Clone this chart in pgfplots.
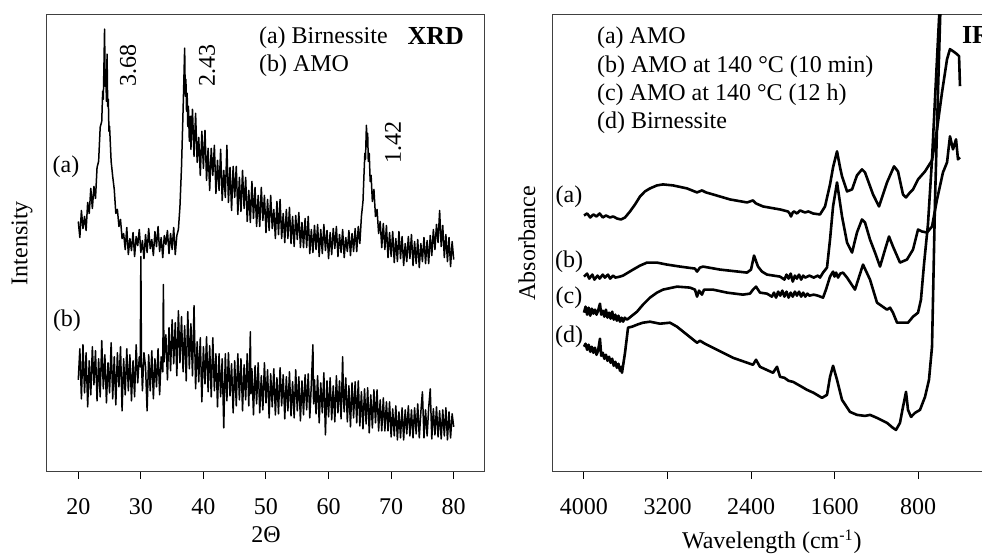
\documentclass[border=0pt]{standalone}
\usepackage{fontspec}
\setmainfont{Liberation Serif}
\usepackage{pgfplots}
\pgfplotsset{compat=1.18}

\pgfplotsset{
  panel/.style={
    scale only axis, height=228.5pt, ymin=0, ymax=457,
    ytick=\empty, xtick pos=bottom, tick align=outside,
    major tick length=3.5pt,
    axis line style={black!75, line width=0.5pt},
    every tick/.style={black, line width=0.5pt},
    tick label style={font=\fontsize{12}{14}\selectfont},
    xticklabel style={yshift=-6pt},
    label style={font=\fontsize{12}{14}\selectfont},
    /pgf/number format/assume math mode=true,
    /pgf/number format/set thousands separator={},
  },
  xrd/.style={black, line width=0.75pt, line join=round},
  ir/.style={black, line width=1.3pt, line join=round},
}

\begin{document}
\begin{tikzpicture}[font=\fontsize{12}{14}\selectfont]

% ---- XRD panel
\begin{axis}[panel, at={(23.5pt,42pt)}, anchor=south west, width=219pt,
  xmin=15, xmax=85, xtick={20,30,40,50,60,70,80},
  xlabel={2Θ}, ylabel={Intensity},
  xlabel style={at={(axis description cs:0.5,-0.155)}, anchor=base},
  ylabel style={at={(axis description cs:-0.057,0.5)}, anchor=center},
]
% (a) Birnessite
\addplot[xrd] coordinates {
(20.00,250) (20.25,234) (20.50,261) (20.75,243) (21.00,255) (21.25,241) (21.50,269) (21.75,258) (22.00,283) (22.25,263) (22.50,285) (22.75,273) (23.00,304) (23.25,310) (23.50,344) (23.75,350) (23.90,380) (24.00,372) (24.10,405) (24.20,442) (24.30,385) (24.40,398) (24.50,370) (24.60,417) (24.70,365) (24.80,372) (24.90,340) (25.00,345) (25.25,310) (25.50,295) (25.75,282) (26.00,258) (26.25,262) (26.50,245) (26.75,252) (27.00,233) (27.25,238) (27.50,222) (27.75,244) (28.00,217) (28.25,233) (28.50,221) (28.75,239) (29.00,215) (29.25,235) (29.50,226) (29.75,242) (30.00,219) (30.25,231) (30.50,213) (30.75,237) (31.00,219) (31.25,243) (31.50,223) (31.75,232) (32.00,216) (32.25,240) (32.50,225) (32.75,245) (33.00,220) (33.25,234) (33.50,214) (33.75,236) (34.00,227) (34.25,241) (34.50,218) (34.75,238) (35.00,222) (35.25,244) (35.50,217) (35.75,236) (36.00,242) (36.25,265) (36.50,305) (36.70,350) (36.85,385) (37.00,423) (37.10,375) (37.20,392) (37.30,360) (37.40,378) (37.50,345) (37.60,365) (37.75,330) (37.90,355) (38.00,322) (38.25,362) (38.50,315) (38.75,358) (39.00,309) (39.25,334) (39.50,296) (39.75,340) (40.00,303) (40.25,341) (40.50,291) (40.75,323) (41.00,281) (41.25,323) (41.50,296) (41.75,326) (42.00,278) (42.25,311) (42.50,281) (42.75,322) (43.00,271) (43.25,301) (43.50,274) (43.75,326) (44.00,269) (44.25,304) (44.50,261) (44.75,305) (45.00,274) (45.25,305) (45.50,257) (45.75,294) (46.00,260) (46.25,301) (46.50,263) (46.75,294) (47.00,250) (47.25,281) (47.50,249) (47.75,290) (48.00,253) (48.25,284) (48.50,245) (48.75,276) (49.00,245) (49.25,284) (49.50,251) (49.75,276) (50.00,239) (50.25,272) (50.50,241) (50.75,276) (51.00,243) (51.25,262) (51.50,233) (51.75,270) (52.00,237) (52.25,272) (52.50,233) (52.75,258) (53.00,229) (53.25,262) (53.50,233) (53.75,264) (54.00,228) (54.25,255) (54.50,225) (54.75,256) (55.00,232) (55.25,259) (55.50,224) (55.75,249) (56.00,224) (56.25,253) (56.50,224) (56.75,255) (57.00,218) (57.25,242) (57.50,219) (57.75,246) (58.00,222) (58.25,247) (58.50,215) (58.75,242) (59.00,218) (59.25,247) (59.50,221) (59.75,241) (60.00,213) (60.25,239) (60.50,217) (60.75,243) (61.00,223) (61.25,245) (61.50,215) (61.75,237) (62.00,219) (62.25,242) (62.50,214) (62.75,234) (63.00,220) (63.25,241) (63.50,216) (63.75,238) (64.00,220) (64.25,243) (64.50,220) (64.75,245) (65.00,228) (65.25,255) (65.50,270) (65.65,295) (65.80,318) (65.90,312) (66.00,335) (66.05,346) (66.15,325) (66.25,338) (66.35,310) (66.50,318) (66.65,290) (66.80,296) (67.00,270) (67.25,282) (67.50,255) (67.75,262) (68.00,238) (68.25,250) (68.50,224) (68.75,248) (69.00,222) (69.25,246) (69.50,214) (69.75,239) (70.00,215) (70.25,240) (70.50,209) (70.75,233) (71.00,210) (71.25,240) (71.50,213) (71.75,235) (72.00,206) (72.25,228) (72.50,210) (72.75,235) (73.00,213) (73.25,237) (73.50,206) (73.75,230) (74.00,208) (74.25,232) (74.50,204) (74.75,228) (75.00,210) (75.25,234) (75.50,208) (75.75,231) (76.00,208) (76.25,236) (76.50,216) (76.75,242) (77.00,222) (77.25,247) (77.50,229) (77.75,261) (78.00,225) (78.25,246) (78.50,214) (78.75,237) (79.00,210) (79.25,234) (79.50,205) (79.75,230) (80.00,212)
};
% (b) AMO
\addplot[xrd] coordinates {
(20.00,92) (20.25,123) (20.50,73) (20.75,127) (21.00,79) (21.25,119) (21.50,65) (21.75,111) (22.00,77) (22.25,125) (22.50,87) (22.75,121) (23.00,71) (23.25,113) (23.50,75) (23.75,131) (24.00,83) (24.25,117) (24.50,69) (24.75,109) (25.00,79) (25.25,129) (25.50,73) (25.75,115) (26.00,67) (26.25,119) (26.50,85) (26.75,125) (27.00,61) (27.25,113) (27.50,77) (27.75,123) (28.00,81) (28.25,117) (28.50,71) (28.75,111) (29.00,75) (29.25,127) (29.50,89) (29.75,115) (29.90,105) (30.00,215) (30.10,110) (30.25,81) (30.50,119) (30.75,105) (31.00,61) (31.25,117) (31.50,81) (31.75,121) (32.00,73) (32.25,113) (32.50,85) (32.75,123) (33.00,77) (33.25,115) (33.50,100) (33.60,187) (33.70,110) (34.00,137) (34.25,92) (34.50,144) (34.75,101) (35.00,152) (35.25,108) (35.50,149) (35.75,96) (36.00,161) (36.25,109) (36.50,155) (36.75,100) (37.00,146) (37.25,91) (37.50,160) (37.75,103) (38.00,148) (38.25,96) (38.50,166) (38.75,83) (39.00,130) (39.25,90) (39.50,134) (39.75,70) (40.00,125) (40.25,88) (40.50,135) (40.75,80) (41.00,126) (41.25,75) (41.50,134) (41.75,81) (42.00,118) (42.25,65) (42.50,118) (42.75,75) (43.00,113) (43.25,44) (43.50,118) (43.75,71) (44.00,119) (44.25,76) (44.50,108) (44.75,59) (45.00,111) (45.25,66) (45.50,118) (45.75,72) (46.00,113) (46.25,61) (46.50,107) (46.75,72) (47.00,118) (47.25,66) (47.50,140) (47.60,78) (47.75,103) (48.00,57) (48.25,106) (48.50,68) (48.75,109) (49.00,59) (49.25,96) (49.50,62) (49.75,109) (50.00,69) (50.25,102) (50.50,54) (50.75,98) (51.00,65) (51.25,103) (51.50,57) (51.75,94) (52.00,58) (52.25,104) (52.50,66) (52.75,97) (53.00,53) (53.25,95) (53.50,61) (53.75,100) (54.00,56) (54.25,90) (54.50,54) (54.75,102) (55.00,61) (55.25,95) (55.50,51) (55.75,91) (56.00,57) (56.25,97) (56.50,62) (56.75,98) (57.00,54) (57.25,88) (57.50,127) (57.60,68) (57.75,92) (58.00,58) (58.25,96) (58.50,49) (58.75,89) (59.00,59) (59.25,99) (59.50,37) (59.75,91) (60.00,55) (60.25,94) (60.50,52) (60.75,86) (61.00,50) (61.25,96) (61.50,59) (61.75,91) (62.00,53) (62.25,115) (62.40,70) (62.50,60) (62.75,94) (63.00,50) (63.25,86) (63.50,45) (63.75,89) (64.00,54) (64.25,90) (64.50,49) (64.75,91) (65.00,46) (65.25,80) (65.50,43) (65.75,83) (66.00,48) (66.25,84) (66.50,39) (66.75,77) (67.00,44) (67.25,82) (67.50,49) (67.75,82) (68.00,41) (68.25,72) (68.50,41) (68.75,74) (69.00,41) (69.25,70) (69.50,41) (69.75,70) (70.00,35) (70.25,63) (70.50,36) (70.75,66) (71.00,32) (71.25,60) (71.50,34) (71.75,64) (72.00,32) (72.25,62) (72.50,38) (72.75,66) (73.00,36) (73.25,62) (73.50,34) (73.75,64) (74.00,38) (74.25,68) (74.50,34) (74.75,60) (75.00,80) (75.25,34) (75.50,62) (75.75,36) (76.00,64) (76.25,83) (76.50,33) (76.75,63) (77.00,37) (77.25,65) (77.50,35) (77.75,61) (78.00,33) (78.25,62) (78.50,36) (78.75,64) (79.00,32) (79.25,60) (79.50,34) (79.75,58) (80.00,45)
};
\end{axis}

% ---- IR panel
\begin{axis}[panel, at={(276.5pt,42pt)}, anchor=south west, width=224.27pt,
  x dir=reverse, xmin=0, xmax=4297, xtick={800,1600,2400,3200,4000},
  xlabel={Wavelength (cm\textsuperscript{-1})}, ylabel={Absorbance},
  xlabel style={at={(axis description cs:0.488,-0.168)}, anchor=base},
  ylabel style={at={(axis description cs:-0.058,0.5)}, anchor=center},
]
% (a) AMO
\addplot[ir] coordinates {
(4000,256) (3970,258) (3940,254) (3910,257) (3880,255) (3850,258) (3820,254) (3790,256) (3751,254) (3720,255) (3684,253) (3645,252) (3607,254) (3559,260) (3511,267) (3463,275) (3416,280) (3368,283) (3301,286) (3243,287) (3147,286) (3013,283) (2917,279) (2870,281) (2831,279) (2764,277) (2601,272) (2438,269) (2381,271) (2352,268) (2285,265) (2122,262) (2046,260) (2030,258) (2017,255) (2000,259) (1988,260) (1960,258) (1930,261) (1883,259) (1850,260) (1806,258) (1739,257) (1691,265) (1643,287) (1614,304) (1576,320) (1547,304) (1528,295) (1480,280) (1432,282) (1385,296) (1337,302) (1308,299) (1231,277) (1174,265) (1097,289) (1030,305) (992,300) (944,277) (915,274) (877,279) (848,282) (800,292) (733,300) (666,311) (618,342) (570,379) (522,412) (494,422) (465,420) (427,417) (407,415) (398,385)
};
% (b) AMO at 140 C (10 min)
\addplot[ir] coordinates {
(4000,195) (3970,198) (3950,193) (3920,197) (3900,192) (3870,196) (3850,193) (3820,197) (3800,194) (3770,197) (3750,193) (3720,196) (3700,194) (3655,195) (3626,196) (3530,202) (3463,206) (3396,209) (3301,209) (3205,207) (3080,205) (2937,203) (2917,200) (2889,204) (2860,205) (2697,202) (2438,199) (2400,202) (2371,216) (2333,205) (2295,200) (2247,197) (2122,195) (2080,192) (2060,197) (2040,193) (2020,198) (2000,190) (1980,196) (1960,193) (1940,197) (1920,192) (1900,196) (1880,194) (1840,196) (1800,194) (1760,196) (1739,194) (1710,199) (1672,204) (1643,232) (1614,265) (1576,289) (1528,255) (1480,229) (1432,219) (1385,239) (1337,252) (1308,249) (1260,232) (1212,219) (1164,205) (1116,222) (1078,235) (1040,225) (973,209) (906,212) (848,222) (800,242) (762,240) (714,239) (666,245) (618,272) (561,299) (522,309) (494,335) (465,322) (436,332) (417,312) (398,314)
};
% (c) AMO at 140 C (12 h)
\addplot[ir] coordinates {
(4000,159) (3985,165) (3970,157) (3955,164) (3940,156) (3925,163) (3910,158) (3895,162) (3880,157) (3865,161) (3847,168) (3835,157) (3820,161) (3805,155) (3790,162) (3775,154) (3760,159) (3745,153) (3730,160) (3715,152) (3700,157) (3685,151) (3670,156) (3655,150) (3640,154) (3625,150) (3610,154) (3588,152) (3540,156) (3492,160) (3435,167) (3368,174) (3301,179) (3243,182) (3109,185) (2984,184) (2937,182) (2917,175) (2898,181) (2870,177) (2850,182) (2764,182) (2630,179) (2477,177) (2410,178) (2381,182) (2352,185) (2314,179) (2247,178) (2200,175) (2180,179) (2160,174) (2140,180) (2120,176) (2100,181) (2080,175) (2060,180) (2040,174) (2020,179) (2000,175) (1980,180) (1960,176) (1940,180) (1920,175) (1900,179) (1880,175) (1860,178) (1840,176) (1800,177) (1760,176) (1710,174) (1682,182) (1643,195) (1614,200) (1600,195) (1585,199) (1566,194) (1545,198) (1519,199) (1480,194) (1404,182) (1327,207) (1260,192) (1193,169) (1097,162) (1068,164) (1040,159) (1001,149) (896,149) (848,155) (800,159) (772,172) (743,207) (705,247) (666,312) (628,392) (599,452) (580,482)
};
% (d) Birnessite
\addplot[ir] coordinates {
(4000,125) (3985,128) (3970,122) (3955,127) (3940,120) (3925,125) (3910,119) (3895,124) (3880,117) (3865,121) (3847,133) (3835,116) (3820,119) (3805,113) (3790,117) (3775,111) (3760,115) (3745,109) (3730,113) (3715,106) (3700,110) (3685,104) (3670,108) (3655,101) (3645,105) (3636,99) (3607,119) (3578,144) (3540,145) (3492,147) (3435,149) (3368,150) (3272,148) (3176,149) (3109,145) (3013,137) (2917,129) (2889,131) (2841,128) (2726,122) (2573,114) (2381,107) (2352,112) (2314,105) (2189,99) (2151,105) (2122,95) (2080,94) (2040,91) (1998,90) (1930,86) (1864,82) (1800,79) (1720,74) (1672,77) (1643,95) (1614,106) (1576,92) (1528,72) (1452,60) (1385,57) (1308,56) (1260,57) (1193,54) (1097,49) (1040,44) (1011,42) (973,49) (944,65) (915,80) (896,62) (867,55) (829,59) (781,62) (733,75) (695,92) (666,125) (656,175) (637,272) (608,382) (580,482)
};
\end{axis}

% ---- texts, placed in image pixels (1 px = 0.5 pt, y downwards)
\begin{scope}[x=0.5pt, y=-0.5pt, shift={(0pt,278pt)}]
  \node[anchor=base west] at (252,44) {(a) Birnessite};
  \node[anchor=base west] at (252,72) {(b) AMO};
  \node[anchor=base east, font=\fontsize{13}{15}\selectfont\bfseries] at (471,45) {XRD};
  \node at (66,167) {(a)};
  \node at (67,321) {(b)};
  \node[rotate=90] at (128,66) {3.68};
  \node[rotate=90] at (207,66) {2.43};
  \node[rotate=90] at (393,143) {1.42};

  \node[anchor=base west] at (590,44) {(a) AMO};
  \node[anchor=base west] at (590,73) {(b) AMO at 140 °C (10 min)};
  \node[anchor=base west] at (590,101) {(c) AMO at 140 °C (12 h)};
  \node[anchor=base west] at (590,129) {(d) Birnessite};
  \node[anchor=base west, font=\fontsize{13}{15}\selectfont\bfseries] at (955,44) {IR};
  \node at (569,197) {(a)};
  \node at (569,262) {(b)};
  \node at (569,298) {(c)};
  \node at (569,337) {(d)};
\end{scope}

\pgfresetboundingbox
\path[use as bounding box] (0pt,0pt) rectangle (491pt,278pt);
\end{tikzpicture}
\end{document}
